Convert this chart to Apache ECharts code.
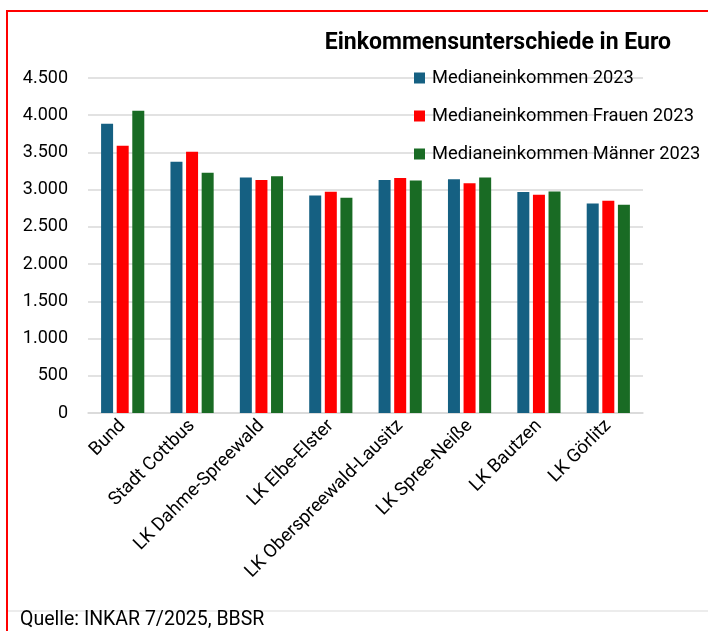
<!DOCTYPE html>
<html>
<head>
<meta charset="utf-8">
<style>html,body{margin:0;padding:0;background:#fff}#c{width:708px;height:631px}</style>
<script src="https://cdn.jsdelivr.net/npm/echarts@6/dist/echarts.min.js"></script>
</head>
<body>
<div id="c"></div>
<script>
const categories = ['Bund','Stadt Cottbus','LK Dahme-Spreewald','LK Elbe-Elster','LK Oberspreewald-Lausitz','LK Spree-Neiße','LK Bautzen','LK Görlitz'];
const seriesNames = ['Medianeinkommen 2023','Medianeinkommen Frauen 2023','Medianeinkommen Männer 2023'];
const medianAll = [3885, 3374, 3165, 2920, 3130, 3139, 2968, 2815];
const medianWomen = [3590, 3508, 3129, 2973, 3157, 3085, 2932, 2851];
const medianMen = [4059, 3227, 3181, 2893, 3122, 3162, 2977, 2797];
const titleText = 'Einkommensunterschiede in Euro';
const sourceText = 'Quelle: INKAR 7/2025, BBSR';

const FONT = "'Roboto', sans-serif";
const colors = ['#156082', '#ff0000', '#196b24'];
const chart = echarts.init(document.getElementById('c'), null, {renderer: 'canvas'});
const fmt = v => String(v).replace(/\B(?=(\d{3})+(?!\d))/g, '.');
const values = [medianAll, medianWomen, medianMen];
chart.setOption({
  animation: false,
  color: colors,
  title: {
    text: titleText, right: 32, top: 27,
    textStyle: {fontFamily: FONT, fontSize: 23, fontWeight: 'bold', color: '#000'}
  },
  legend: {
    orient: 'vertical', left: 409, top: 64, itemGap: 20,
    itemWidth: 11, itemHeight: 11, icon: 'rect',
    textStyle: {fontFamily: FONT, fontSize: 18.3, color: '#000', padding: [0,0,0,2]},
    data: seriesNames
  },
  grid: {left: 88, right: 65, top: 78, bottom: 218, containLabel: false},
  xAxis: {
    type: 'category', data: categories,
    axisLine: {lineStyle: {color: '#d9d9d9', width: 1.5}},
    axisTick: {show: false},
    axisLabel: {rotate: 45, interval: 0, margin: 10, fontFamily: FONT, fontSize: 18.5, color: '#000'}
  },
  yAxis: {
    type: 'value', min: 0, max: 4500, interval: 500,
    axisLine: {show: false}, axisTick: {show: false},
    splitLine: {lineStyle: {color: '#d9d9d9', width: 1.5}},
    axisLabel: {formatter: fmt, margin: 20, fontFamily: FONT, fontSize: 18, color: '#000'}
  },
  series: seriesNames.map((n, i) => ({
    name: n, type: 'bar', data: values[i],
    barWidth: 12, barGap: '30%'
  })),
  graphic: [
    {type: 'rect', shape: {x: 7, y: 11, width: 720, height: 640}, style: {fill: 'none', stroke: '#ff0000', lineWidth: 2}},
    {type: 'line', shape: {x1: 8, y1: 611, x2: 708, y2: 611}, style: {stroke: '#d9d9d9', lineWidth: 1}},
    {type: 'text', left: 20, top: 610, style: {text: sourceText, fontFamily: FONT, fontSize: 19.5, fill: '#000'}}
  ]
});
</script>
</body>
</html>
